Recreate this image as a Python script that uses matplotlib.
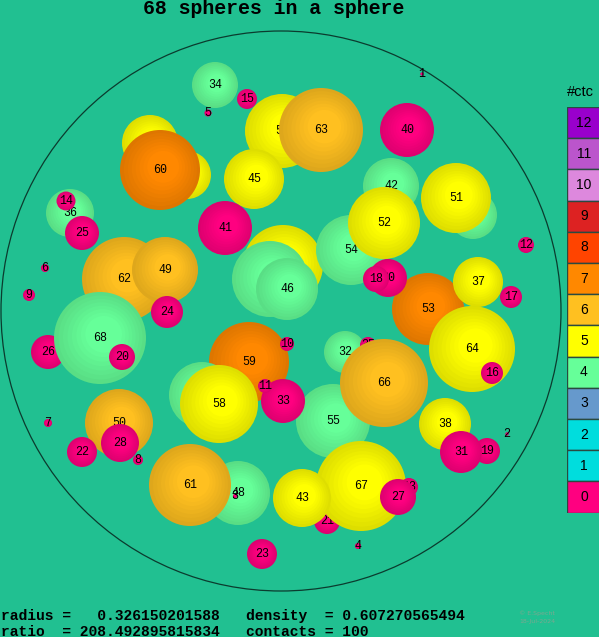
import matplotlib
matplotlib.use("Agg")
import matplotlib.pyplot as plt
import numpy as np
from matplotlib.colors import to_rgb
from matplotlib.patches import Circle, Rectangle

# sphere index, centre (x, y) and radius, measured from the container centre
# (container radius = 280), listed back to front
labels = [34, 15, 5, 1, 44, 47, 60, 57, 45, 63, 40, 42, 39, 51, 36, 14, 25, 6, 9,
          56, 41, 65, 46, 54, 52, 53, 30, 18, 37, 12, 17, 64, 16, 62, 49, 24, 26,
          68, 20, 32, 35, 59, 10, 29, 58, 55, 33, 11, 66, 38, 19, 31, 2, 50, 28,
          22, 7, 8, 48, 61, 3, 23, 21, 67, 43, 13, 27, 4]
xs = [-66, -34, -73, 141, -131, -94, -121, 1, -27, 40, 126, 110, 192, 175, -211, -215, -199, -236, -252,
      2, -56, -11, 6, 70, 103, 147, 107, 95, 197, 245, 230, 191, 211, -157, -116, -114, -233,
      -181, -159, 64, 87, -32, 6, -79, -62, 52, 2, -16, 103, 164, 206, 180, 226, -162, -161,
      -199, -233, -143, -43, -91, -46, -19, 46, 80, 21, 128, 117, 77]
ys = [226, 212, 198, 237, 168, 136, 141, 180, 132, 181, 181, 125, 96, 113, 98, 110, 78, 43, 16,
      46, 83, 32, 22, 61, 88, 2, 33, 32, 29, 66, 14, -38, -62, 32, 41, -1, -41,
      -27, -46, -41, -34, -51, -33, -84, -93, -110, -90, -75, -72, -113, -140, -141, -123, -112, -132,
      -141, -112, -149, -182, -174, -185, -243, -210, -175, -187, -176, -186, -235]
rs = [23, 10, 3.5, 1.5, 28, 24, 40, 37, 30, 42, 27, 28, 24, 35, 24, 9.5, 17, 4, 6,
      40, 27, 38, 31, 35, 36, 36, 19, 13, 25, 8, 11, 43, 11, 42, 33, 16, 17,
      46, 13, 21, 8, 40, 7, 33, 39, 37, 22, 7, 44, 26, 13, 21, 1.5, 34, 19,
      15, 4, 5, 32, 41, 2, 15, 13, 45, 29, 9, 18, 3]
contacts = [4, 0, 0, 0, 5, 5, 7, 5, 5, 6, 0, 4, 4, 5, 4, 0, 0, 0, 0,
            5, 0, 4, 4, 4, 5, 7, 0, 0, 5, 0, 0, 5, 0, 6, 6, 0, 0,
            4, 0, 4, 0, 7, 0, 4, 5, 4, 0, 0, 6, 5, 0, 0, 0, 6, 0,
            0, 0, 0, 4, 6, 0, 0, 0, 5, 5, 0, 0, 0]

ctc_levels = [12, 11, 10, 9, 8, 7, 6, 5, 4, 3, 2, 1, 0]
ctc_colors = ["#9900cc", "#bb55cc", "#dd88dd", "#dd2222", "#ff4400", "#ff8800", "#ffc020",
              "#ffff00", "#66ff99", "#6699cc", "#00dddd", "#00dddd", "#ff0080"]

title = "68 spheres in a sphere"
radius_txt = "0.326150201588"
density_txt = "0.607270565494"
ratio_txt = "208.492895815834"
n_contacts = 100

BG = "#21c091"
W, H = 599, 637
CX, CY, R0 = 281, 311, 280

color_of = dict(zip(ctc_levels, ctc_colors))

fig = plt.figure(figsize=(W / 100, H / 100), dpi=100, facecolor=BG)
ax = fig.add_axes([0, 0, 1, 1])
ax.set_facecolor(BG)
ax.set_xlim(-CX, W - CX)
ax.set_ylim(CY - H, CY)
ax.axis("off")

ax.add_patch(Circle((0, 0), R0, fill=False, edgecolor="#0b3b2e", lw=0.9, zorder=1))

n_layers = 8
for i, (lab, x, y, r, c) in enumerate(zip(labels, xs, ys, rs, contacts)):
    base = np.array(to_rgb(color_of[c]))
    z = 10 + 2 * i
    for k in range(n_layers):
        t = k / (n_layers - 1)
        rr = r * (1 - 0.6 * t)
        off = 0.08 * r * t
        col = np.clip(base * (0.87 + 0.13 * t), 0, 1)
        ax.add_patch(Circle((x + off, y + off), rr, facecolor=col, edgecolor="none", zorder=z))
    ax.text(x, y, str(lab), ha="center", va="center", fontsize=8.4,
            family="Liberation Mono", color="black", zorder=z + 1)

fig.text(274 / W, 1 - 8 / H, title, ha="center", va="center", fontsize=14.3,
         family="Liberation Mono", weight="bold")

line1 = f"radius =   {radius_txt}   density  = {density_txt}"
line2 = f"ratio  = {ratio_txt}   contacts = {n_contacts}"
fig.text(1 / W, 1 - 616 / H, line1, ha="left", va="center", fontsize=10.5,
         family="Liberation Mono", weight="bold")
fig.text(1 / W, 1 - 632 / H, line2, ha="left", va="center", fontsize=10.5,
         family="Liberation Mono", weight="bold")

fig.text(537 / W, 1 - 613 / H, "\u00a9 E.Specht", ha="center", va="center",
         fontsize=4.5, color="#7aa890")
fig.text(537 / W, 1 - 622 / H, "18-Jul-2024", ha="center", va="center",
         fontsize=4.5, color="#7aa890")

# contact-count legend
box_h = 31.2
top = 107
lax = fig.add_axes([567 / W, 1 - (top + box_h * len(ctc_levels)) / H, 40 / W,
                    box_h * len(ctc_levels) / H])
lax.set_xlim(0, 40)
lax.set_ylim(len(ctc_levels), 0)
lax.axis("off")
for j, (lev, col) in enumerate(zip(ctc_levels, ctc_colors)):
    lax.add_patch(Rectangle((0, j), 40, 1, facecolor=col, edgecolor="#2a4a40", lw=1))
    lax.text(17, j + 0.5, str(lev), ha="center", va="center", fontsize=10,
             family="Liberation Sans", color="black")
fig.text(567 / W, 1 - 92 / H, "#ctc", ha="left", va="center", fontsize=10.5,
         family="Liberation Sans", color="black")

fig.savefig("out.png", dpi=100, facecolor=BG)
